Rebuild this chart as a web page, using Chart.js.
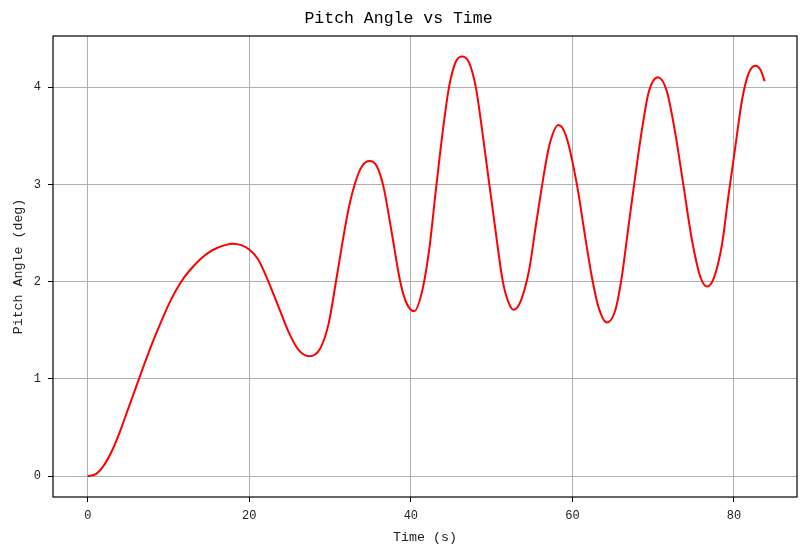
<!DOCTYPE html>
<html>
<head>
<meta charset="utf-8">
<script src="https://cdn.jsdelivr.net/npm/chart.js@4"></script>
<style>
  html, body { margin: 0; padding: 0; background: #fff; }
  #wrap { width: 809px; height: 555px; }
</style>
</head>
<body>
<div id="wrap"><canvas id="pitchChart" width="809" height="555"></canvas></div>
<script>
// values (time in s, pitch in deg)
const timeS = [
  0, 1, 2, 3, 4, 5, 6, 7, 8, 9, 10, 11, 12, 13, 14, 15, 16, 17, 18, 19,
  20.0, 21.12, 22.36, 23.6, 24.83, 26.07, 27.4, 28.76,
  29.8, 30.7, 31.45, 32.27, 33.1, 33.93, 34.88, 35.8, 36.6, 37.64,
  38.68, 39.4, 40.41, 41.44, 42.27, 43.1, 43.92, 44.74, 45.57, 46.39,
  47.22, 48.04, 48.87, 49.69, 50.52, 51.34, 51.96, 52.7, 53.6, 54.64,
  55.46, 56.29, 57.11, 58.27, 59.2, 60.55, 61.57, 62.4, 63.22, 64.26,
  65.29, 66.12, 66.94, 67.77, 68.6, 69.42, 70.58, 71.69, 72.73, 73.76,
  74.79, 75.83, 76.65, 77.48, 78.51, 79.34, 80.17, 81.0, 81.82, 82.64,
  83.26, 83.8
];
const pitchDeg = [
  0, 0.02, 0.11, 0.26, 0.46, 0.69, 0.92, 1.15, 1.37, 1.57, 1.76, 1.92,
  2.05, 2.15, 2.235, 2.30, 2.345, 2.375, 2.39, 2.375,
  2.33, 2.225, 2.0, 1.745, 1.488, 1.3, 1.232, 1.31,
  1.56, 1.985, 2.362, 2.74, 3.013, 3.184, 3.24, 3.184, 2.979, 2.5,
  2.0, 1.79, 1.694, 1.917, 2.33, 2.945, 3.527, 4.007, 4.263, 4.315,
  4.25, 4.0, 3.527, 3.013, 2.5, 2.02, 1.815, 1.71, 1.8, 2.12,
  2.57, 3.013, 3.39, 3.61, 3.5, 3.0, 2.465, 2.05, 1.74, 1.58,
  1.7, 2.053, 2.568, 3.08, 3.56, 3.94, 4.1, 3.955, 3.527, 2.979,
  2.43, 2.05, 1.95, 2.03, 2.38, 2.9, 3.39, 3.87, 4.144, 4.22,
  4.18, 4.06
];
const xTicks = [0, 20, 40, 60, 80];
const yTicks = [0, 1, 2, 3, 4];

const fontFamily = "'Liberation Mono', 'DejaVu Sans Mono', monospace";

// full black frame like matplotlib spines
const frame = {
  id: "frame",
  afterDraw(chart) {
    const a = chart.chartArea;
    const c = chart.ctx;
    c.save();
    c.strokeStyle = "#000";
    c.lineWidth = 1.2;
    c.strokeRect(a.left, a.top, a.right - a.left, a.bottom - a.top);
    c.restore();
  }
};

const ctx = document.getElementById("pitchChart");

new Chart(ctx, {
  type: "line",
  data: {
    datasets: [{
      label: "Pitch Angle",
      data: timeS.map((t, i) => ({ x: t, y: pitchDeg[i] })),
      borderColor: "#ff0000",
      borderWidth: 2,
      pointRadius: 0,
      fill: false,
      cubicInterpolationMode: "monotone"
    }]
  },
  options: {
    responsive: false,
    animation: false,
    devicePixelRatio: 1,
    layout: {
      padding: { left: 0, right: 12, top: 0, bottom: 8 }
    },
    plugins: {
      legend: { display: false },
      tooltip: { enabled: false },
      title: {
        display: true,
        text: "Pitch Angle vs Time",
        color: "#000",
        font: { family: fontFamily, size: 16.5, weight: "normal" },
        padding: { top: 8.4, bottom: 7.8 }
      }
    },
    scales: {
      x: {
        type: "linear",
        min: -4.3,
        max: 87.8,
        afterBuildTicks(axis) {
          axis.ticks = xTicks.map(v => ({ value: v }));
        },
        afterFit(axis) {
          axis.height = 50;
        },
        ticks: {
          color: "#222",
          font: { family: fontFamily, size: 12 },
          padding: 7,
          maxRotation: 0
        },
        grid: {
          color: "#b0b0b0",
          lineWidth: 1,
          tickColor: "#000",
          tickLength: 5
        },
        border: { display: false },
        title: {
          display: true,
          text: "Time (s)",
          color: "#222",
          font: { family: fontFamily, size: 13.3 },
          padding: { top: 2, bottom: 2 }
        }
      },
      y: {
        min: -0.2155,
        max: 4.5255,
        afterBuildTicks(axis) {
          axis.ticks = yTicks.map(v => ({ value: v }));
        },
        afterFit(axis) {
          axis.width = 53;
        },
        ticks: {
          color: "#222",
          font: { family: fontFamily, size: 12 },
          padding: 7
        },
        grid: {
          color: "#b0b0b0",
          lineWidth: 1,
          tickColor: "#000",
          tickLength: 5
        },
        border: { display: false },
        title: {
          display: true,
          text: "Pitch Angle (deg)",
          color: "#222",
          font: { family: fontFamily, size: 13.3 },
          padding: { top: 10, bottom: 0 }
        }
      }
    }
  },
  plugins: [frame]
});
</script>
</body>
</html>
